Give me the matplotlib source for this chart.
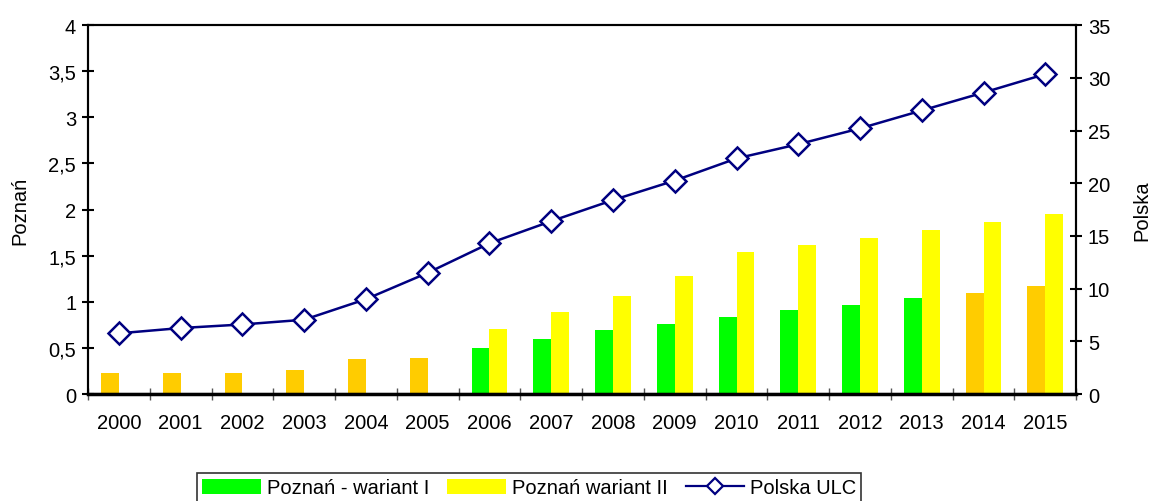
import matplotlib.pyplot as plt
import numpy as np
from matplotlib.ticker import FixedLocator, FuncFormatter
from matplotlib.lines import Line2D
from matplotlib.patches import Patch

plt.rcParams['font.family'] = ['Liberation Sans', 'DejaVu Sans']

lata = ['2000', '2001', '2002', '2003', '2004', '2005', '2006', '2007',
        '2008', '2009', '2010', '2011', '2012', '2013', '2014', '2015']
poznan_w1 = [0.23, 0.23, 0.23, 0.26, 0.38, 0.39, 0.50, 0.60,
             0.69, 0.76, 0.835, 0.91, 0.965, 1.04, 1.095, 1.17]
poznan_w2 = [0, 0, 0, 0, 0, 0, 0.705, 0.89,
             1.06, 1.28, 1.54, 1.615, 1.69, 1.78, 1.865, 1.95]
polska_ulc = [5.76, 6.26, 6.6, 7.05, 9.0, 11.5, 14.3, 16.4,
              18.4, 20.25, 22.35, 23.7, 25.2, 26.9, 28.6, 30.35]
# lata z danymi szacowanymi - slupek pomaranczowy
szacowane = ['2000', '2001', '2002', '2003', '2004', '2005', '2014', '2015']

zielony = '#00FF00'
zolty = '#FFFF00'
pomaranczowy = '#FFCC00'
granat = '#000080'
fs = 14.5

fig = plt.figure(figsize=(11.51, 5.02), dpi=100)
ax = fig.add_axes([0.0765, 0.2131, 0.8585, 0.7349])
ax2 = ax.twinx()

x = np.arange(len(lata))
w = 0.29
kolory1 = [pomaranczowy if r in szacowane else zielony for r in lata]
ax.bar(x - w / 2, poznan_w1, width=w, color=kolory1, zorder=2)
ax.bar(x + w / 2, poznan_w2, width=w, color=zolty, zorder=2)

ax2.plot(x, polska_ulc, color=granat, lw=1.8, marker='D', markersize=11.5,
         markerfacecolor='white', markeredgecolor=granat, markeredgewidth=1.8)

ax.set_xlim(-0.5, len(lata) - 0.5)
ax.set_ylim(0, 4)
ax2.set_ylim(0, 35)
ax.set_yticks(np.arange(0, 4.01, 0.5))
ax2.set_yticks(np.arange(0, 36, 5))
ax.yaxis.set_major_formatter(FuncFormatter(lambda v, p: ('%g' % v).replace('.', ',')))

ax.xaxis.set_major_locator(FixedLocator(np.arange(-0.5, len(lata), 1)))
ax.xaxis.set_major_formatter(FuncFormatter(lambda v, p: ''))
ax.xaxis.set_minor_locator(FixedLocator(x))
ax.set_xticklabels(lata, minor=True)
ax.tick_params(axis='x', which='minor', length=0, pad=14, labelsize=fs)
ax.tick_params(axis='x', which='major', direction='inout', length=9, width=1, color='#555555')
ax.tick_params(axis='y', direction='inout', length=9, width=1.5, labelsize=fs, pad=4)
ax2.tick_params(axis='y', direction='inout', length=9, width=1.5, labelsize=fs, pad=4)

for a in (ax, ax2):
    for s in a.spines.values():
        s.set_linewidth(1.5)
ax.spines['bottom'].set_linewidth(2.5)

ax.set_ylabel('Poznań', fontsize=fs, labelpad=14)
ax2.set_ylabel('Polska', fontsize=fs, labelpad=16)

uchwyty = [Patch(facecolor=zielony, label='Poznań - wariant I'),
           Patch(facecolor=zolty, label='Poznań wariant II'),
           Line2D([], [], color=granat, lw=1.6, marker='D', markersize=8,
                  markerfacecolor='white', markeredgecolor=granat,
                  markeredgewidth=1.6, label='Polska ULC')]
leg = fig.legend(handles=uchwyty, loc='center', bbox_to_anchor=(0.46, 0.026),
                 ncol=3, fontsize=fs, frameon=True, fancybox=False,
                 handlelength=2.9, handleheight=0.8, handletextpad=0.3,
                 columnspacing=0.9, borderpad=0.25, borderaxespad=0)
leg.get_frame().set_edgecolor('black')
leg.get_frame().set_linewidth(1.2)

fig.savefig('out.png', dpi=100)
